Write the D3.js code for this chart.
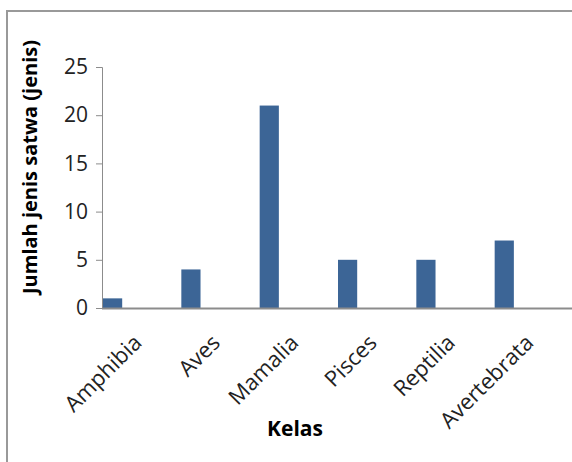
<!DOCTYPE html>
<html>
<head>
	<meta charset="utf-8">
	<title>jumlah jenis satwa</title>
	<script src="https://d3js.org/d3.v7.min.js"></script>
	<style>
		body { margin: 0; background: #fff; }
		svg { display: block; }
	</style>
</head>
<body>
	<svg width="572" height="462"></svg>
	<script type="text/javascript">

		// data
		var kelas = ['Amphibia', 'Aves', 'Mamalia', 'Pisces', 'Reptilia', 'Avertebrata'];
		var jumlah = [1, 4, 21, 5, 5, 7];
		var yTicks = [0, 5, 10, 15, 20, 25];

		var plotLeft = 102, plotRight = 572, plotTop = 67, plotBottom = 308;
		var font = 'Open Sans, Noto Sans, sans-serif';
		var axisColor = '#8c8c8c', barColor = '#3c6596';

		var svg = d3.select('svg');

		// outer frame (runs off the right and bottom edge)
		svg.append('rect')
			.attr('x', 7)
			.attr('y', 11)
			.attr('width', 600)
			.attr('height', 500)
			.attr('fill', 'none')
			.attr('stroke', '#999')
			.attr('stroke-width', 2);

		var xScale = d3.scaleBand()
			.domain(kelas)
			.range([plotLeft, plotRight]);
		var yScale = d3.scaleLinear()
			.domain([0, 25])
			.range([plotBottom, plotTop]);

		var yAxis = d3.axisLeft(yScale)
			.tickValues(yTicks)
			.tickSize(6)
			.tickPadding(8);

		svg.append('g')
			.attr('transform', 'translate(' + plotLeft + ',0)')
			.call(yAxis)
			.call(g => g.selectAll('line, path').attr('stroke', axisColor))
			.call(g => g.selectAll('text')
				.attr('font-family', font)
				.attr('font-size', 21)
				.attr('fill', '#222'));

		// bars sit at the left side of each category slot
		svg.append('g')
			.selectAll('rect')
			.data(jumlah)
			.enter().append('rect')
			.attr('x', (d, i) => xScale(kelas[i]) + 1)
			.attr('y', d => yScale(d))
			.attr('width', xScale.bandwidth() * 0.245)
			.attr('height', d => yScale(0) - yScale(d))
			.attr('fill', barColor);

		// x axis line
		svg.append('line')
			.attr('x1', plotLeft)
			.attr('x2', plotRight)
			.attr('y1', yScale(0) + 0.5)
			.attr('y2', yScale(0) + 0.5)
			.attr('stroke', axisColor)
			.attr('stroke-width', 2);

		// rotated category labels
		svg.append('g')
			.selectAll('text')
			.data(kelas)
			.enter().append('text')
			.attr('transform', d => 'translate(' + (xScale(d) + xScale.bandwidth() / 2 + 2) + ',' + 344 + ') rotate(-45)')
			.attr('text-anchor', 'end')
			.attr('font-family', font)
			.attr('font-size', 22)
			.attr('fill', '#222')
			.text(d => d);

		svg.append('text')
			.attr('x', 295)
			.attr('y', 436)
			.attr('text-anchor', 'middle')
			.attr('font-family', font)
			.attr('font-weight', 'bold')
			.attr('font-size', 21)
			.text('Kelas');

		svg.append('text')
			.attr('transform', 'translate(37,167) rotate(-90)')
			.attr('text-anchor', 'middle')
			.attr('font-family', font)
			.attr('font-weight', 'bold')
			.attr('font-size', 20)
			.text('Jumlah jenis satwa (jenis)');

	</script>
</body>
</html>
